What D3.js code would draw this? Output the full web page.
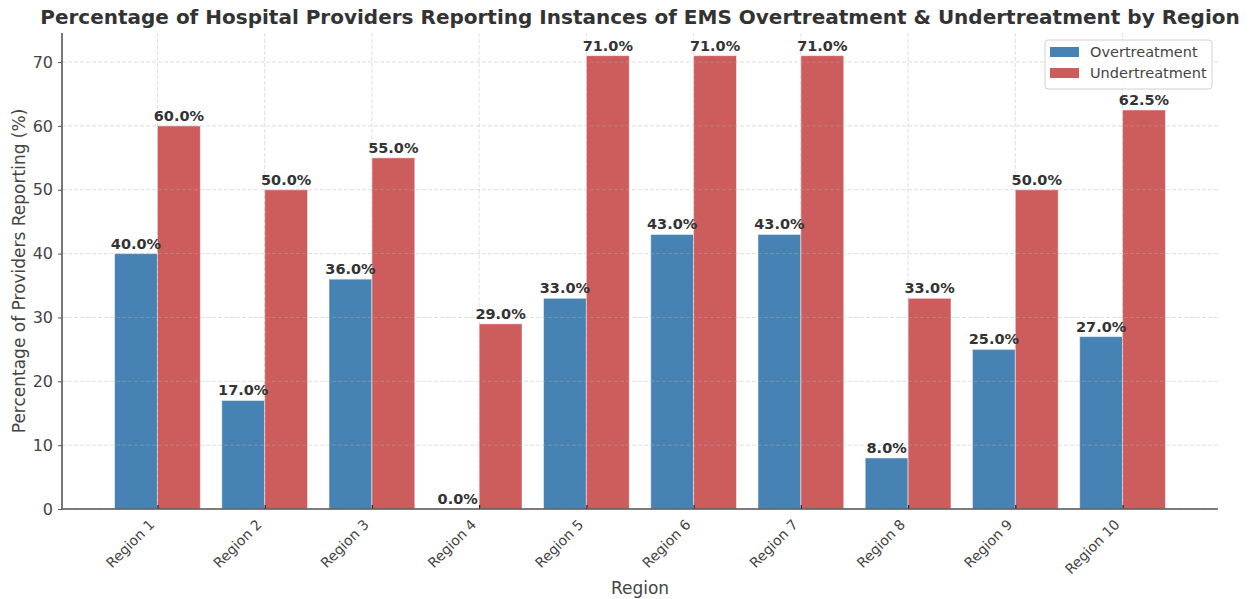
<!DOCTYPE html>
<html>
<head>
<meta charset="utf-8">
<script src="https://cdn.jsdelivr.net/npm/d3@7"></script>
<style>
  html, body { margin: 0; padding: 0; background: #fff; }
  svg { display: block; font-family: "DejaVu Sans", sans-serif; }
</style>
</head>
<body>
<svg id="chart" width="1251" height="599"></svg>
<script>
// Survey results by region
const regions = ["Region 1", "Region 2", "Region 3", "Region 4", "Region 5",
                 "Region 6", "Region 7", "Region 8", "Region 9", "Region 10"];
const overtreatment = [40, 17, 36, 0, 33, 43, 43, 8, 25, 27];
const undertreatment = [60, 50, 55, 29, 71, 71, 71, 33, 50, 62.5];
const yTicks = [0, 10, 20, 30, 40, 50, 60, 70];
const seriesNames = ["Overtreatment", "Undertreatment"];
const seriesColors = ["#4682B4", "#CD5C5C"];

const svg = d3.select("#chart");
const margin = { left: 62, right: 1218, top: 33, bottom: 509 };

// Category positions as in a numeric index axis: bars of width 0.4 either side of each index
const x = d3.scaleLinear().domain([-0.89, 9.89]).range([margin.left, margin.right]);
const yMax = d3.max(undertreatment.concat(overtreatment)) * 1.05;
const y = d3.scaleLinear().domain([0, yMax]).range([margin.bottom, margin.top]);
const barW = 0.4;

const textColor = "#333333";
const tickColor = "#444444";
const axisColor = "#555555";

// Bars
const series = [overtreatment, undertreatment];
series.forEach((vals, si) => {
  const off = si === 0 ? -barW : 0;
  svg.append("g").selectAll("rect")
    .data(vals)
    .join("rect")
    .attr("x", (d, i) => x(i + off))
    .attr("width", (d, i) => x(i + off + barW) - x(i + off))
    .attr("y", d => y(d))
    .attr("height", d => y(0) - y(d))
    .attr("fill", seriesColors[si])
    .attr("stroke", "#ffffff")
    .attr("stroke-opacity", 0.5)
    .attr("stroke-width", 1);
});

// Grid lines, drawn over the bars
const grid = svg.append("g");
grid.selectAll("line.h")
  .data(yTicks)
  .join("line")
  .attr("x1", margin.left).attr("x2", margin.right)
  .attr("y1", d => y(d)).attr("y2", d => y(d))
  .attr("stroke", "#b0b0b0").attr("stroke-opacity", 0.5)
  .attr("stroke-dasharray", "4,2").attr("stroke-width", 0.8);
grid.selectAll("line.v")
  .data(regions)
  .join("line")
  .attr("x1", (d, i) => x(i)).attr("x2", (d, i) => x(i))
  .attr("y1", margin.top).attr("y2", margin.bottom)
  .attr("stroke", "#b0b0b0").attr("stroke-opacity", 0.5)
  .attr("stroke-dasharray", "4,2").attr("stroke-width", 0.8);

// Value labels
series.forEach((vals, si) => {
  const off = si === 0 ? -barW / 2 : barW / 2;
  svg.append("g").selectAll("text")
    .data(vals)
    .join("text")
    .attr("x", (d, i) => x(i + off))
    .attr("y", d => y(d) - 5)
    .attr("text-anchor", "middle")
    .attr("font-size", 14.5)
    .attr("font-weight", "bold")
    .attr("fill", textColor)
    .text(d => d.toFixed(1) + "%");
});

// Y axis
const yAxis = svg.append("g")
  .attr("transform", `translate(${margin.left},0)`)
  .call(d3.axisLeft(y).tickValues(yTicks).tickSize(4).tickPadding(5).tickFormat(d3.format("d")));
yAxis.select(".domain").remove();
yAxis.selectAll(".tick line").attr("stroke", axisColor);
yAxis.selectAll(".tick text").attr("font-size", 16).attr("fill", tickColor)
  .attr("font-family", "DejaVu Sans, sans-serif");
svg.append("line")
  .attr("x1", margin.left).attr("x2", margin.left)
  .attr("y1", margin.top).attr("y2", margin.bottom)
  .attr("stroke", axisColor).attr("stroke-width", 1.6);

// X axis
const xAxis = svg.append("g")
  .attr("transform", `translate(0,${margin.bottom})`)
  .call(d3.axisBottom(x).tickValues(d3.range(regions.length)).tickSize(-4)
        .tickFormat(i => regions[i]));
xAxis.select(".domain").remove();
xAxis.selectAll(".tick line").attr("stroke", "#222").attr("stroke-width", 1.2);
xAxis.selectAll(".tick text")
  .attr("font-size", 14)
  .attr("fill", tickColor)
  .attr("font-family", "DejaVu Sans, sans-serif")
  .attr("text-anchor", "end")
  .attr("dy", "0.35em")
  .attr("y", 0)
  .attr("transform", "translate(-6,13) rotate(-45)");
svg.append("line")
  .attr("x1", margin.left).attr("x2", margin.right)
  .attr("y1", margin.bottom).attr("y2", margin.bottom)
  .attr("stroke", axisColor).attr("stroke-width", 1.6);

// Axis titles
svg.append("text")
  .attr("x", (margin.left + margin.right) / 2).attr("y", 594)
  .attr("text-anchor", "middle").attr("font-size", 17).attr("fill", tickColor)
  .text("Region");
svg.append("text")
  .attr("transform", `translate(25,${(margin.top + margin.bottom) / 2}) rotate(-90)`)
  .attr("text-anchor", "middle").attr("font-size", 17).attr("fill", tickColor)
  .text("Percentage of Providers Reporting (%)");

// Title
svg.append("text")
  .attr("x", (margin.left + margin.right) / 2).attr("y", 24)
  .attr("text-anchor", "middle").attr("font-size", 20).attr("font-weight", "bold")
  .attr("fill", textColor)
  .text("Percentage of Hospital Providers Reporting Instances of EMS Overtreatment & Undertreatment by Region");

// Legend
const lg = svg.append("g").attr("transform", "translate(1045,40)");
lg.append("rect")
  .attr("width", 167).attr("height", 49).attr("rx", 3)
  .attr("fill", "#fff").attr("fill-opacity", 0.8)
  .attr("stroke", "#d0d0d0");
seriesNames.forEach((name, i) => {
  lg.append("rect")
    .attr("x", 5).attr("y", 7 + i * 21).attr("width", 29).attr("height", 10)
    .attr("fill", seriesColors[i]);
  lg.append("text")
    .attr("x", 45).attr("y", 17 + i * 21)
    .attr("font-size", 14.5).attr("fill", tickColor)
    .text(name);
});
</script>
</body>
</html>
